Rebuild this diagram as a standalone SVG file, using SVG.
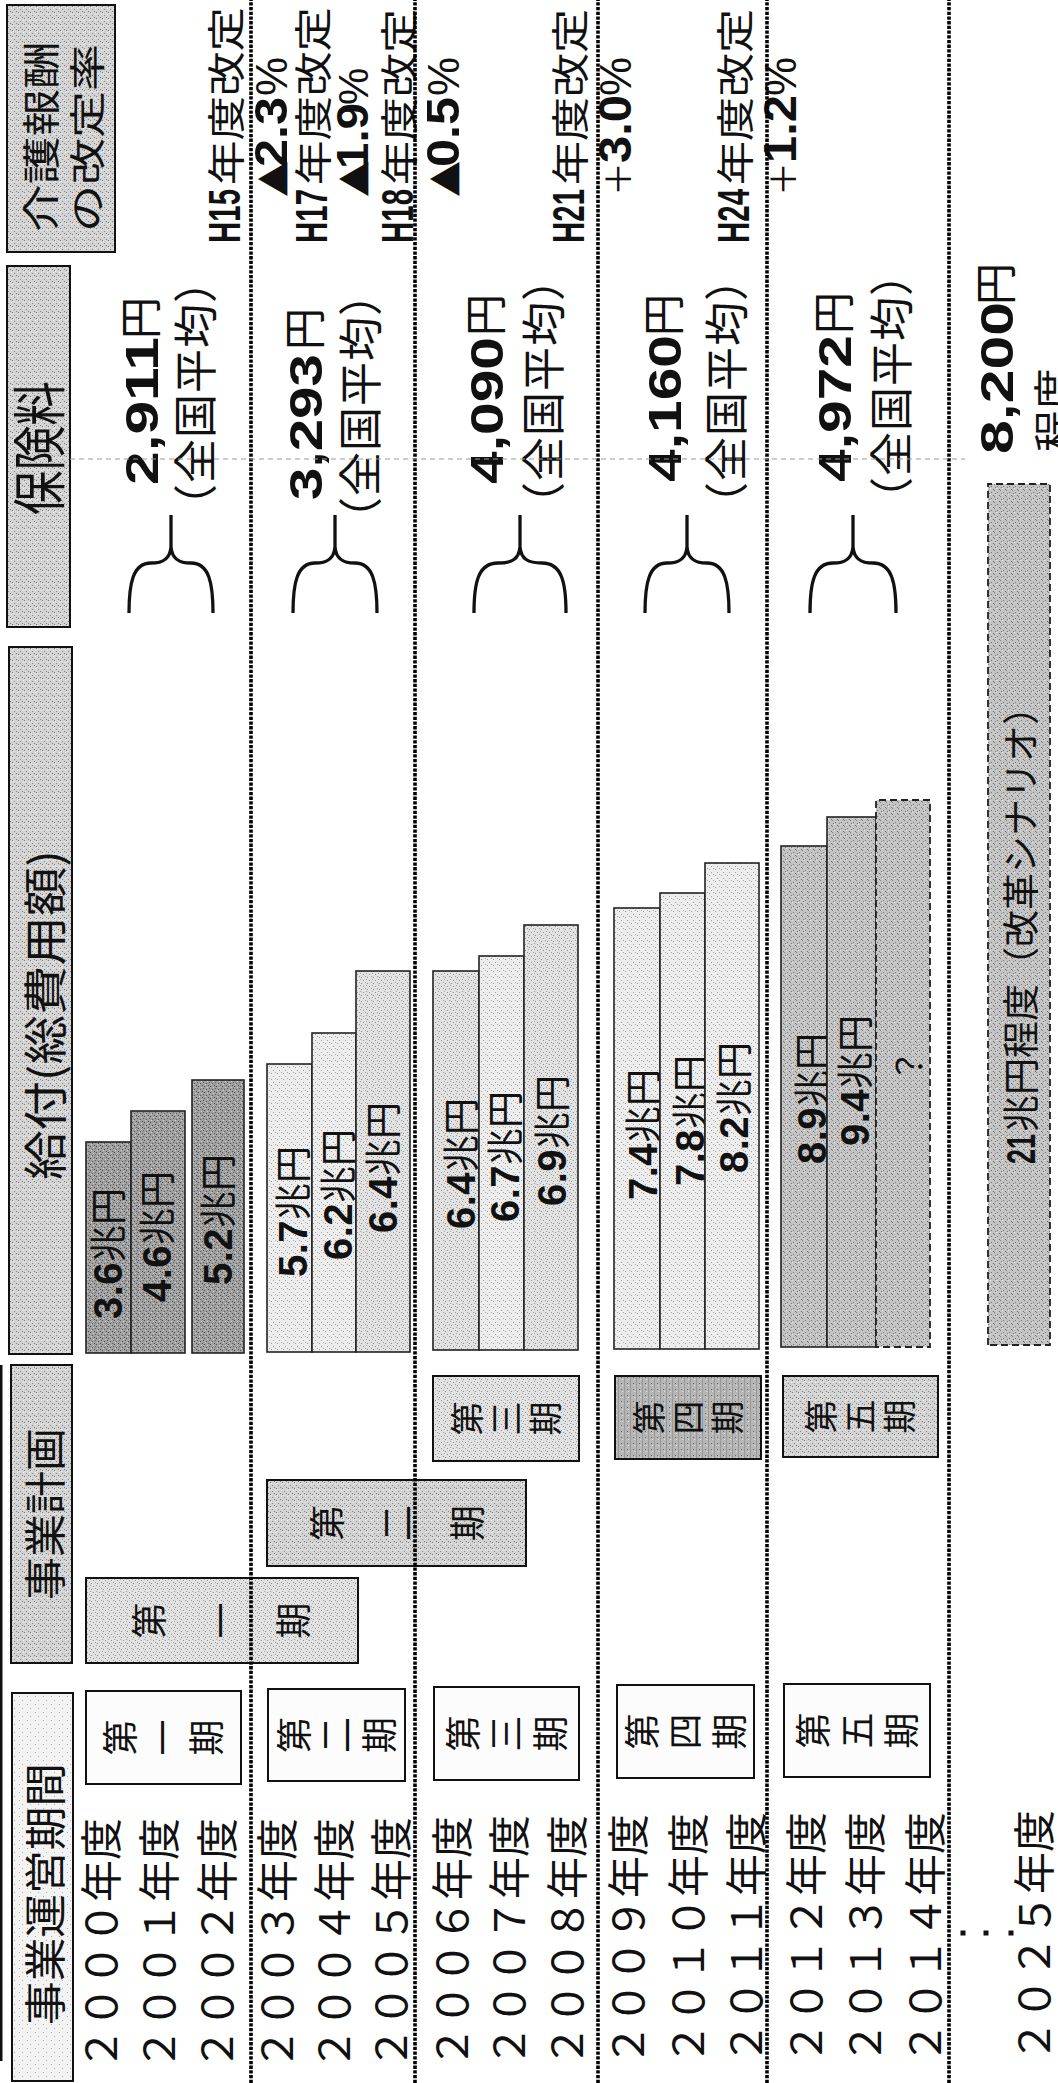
<svg xmlns="http://www.w3.org/2000/svg" width="1058" height="2083" viewBox="0 0 1058 2083">
<defs>
<pattern id="pK" width="6" height="6" patternUnits="userSpaceOnUse"><rect width="6" height="6" fill="#a0a0a0"/><rect x="0" y="0" width="1" height="1" fill="#505050"/><rect x="3" y="2" width="1" height="1" fill="#555"/><rect x="1" y="4" width="1" height="1" fill="#505050"/><rect x="4" y="5" width="1" height="1" fill="#606060"/><rect x="2" y="1" width="1" height="1" fill="#d4d4d4"/><rect x="5" y="3" width="1" height="1" fill="#d0d0d0"/></pattern>
<pattern id="pL" width="6" height="6" patternUnits="userSpaceOnUse"><rect width="6" height="6" fill="#ededed"/><rect x="1" y="1" width="1" height="1" fill="#999"/><rect x="4" y="3" width="1" height="1" fill="#a0a0a0"/><rect x="2" y="5" width="1" height="1" fill="#aaa"/></pattern>
<pattern id="pL2" width="6" height="6" patternUnits="userSpaceOnUse"><rect width="6" height="6" fill="#e2e2e2"/><rect x="1" y="1" width="1" height="1" fill="#8a8a8a"/><rect x="4" y="3" width="1" height="1" fill="#909090"/><rect x="2" y="5" width="1" height="1" fill="#999"/><rect x="5" y="0" width="1" height="1" fill="#a5a5a5"/></pattern>
<pattern id="pM" width="6" height="6" patternUnits="userSpaceOnUse"><rect width="6" height="6" fill="#c4c4c4"/><rect x="0" y="1" width="1" height="1" fill="#777"/><rect x="3" y="3" width="1" height="1" fill="#707070"/><rect x="5" y="5" width="1" height="1" fill="#7a7a7a"/><rect x="2" y="4" width="1" height="1" fill="#808080"/><rect x="4" y="0" width="1" height="1" fill="#e8e8e8"/></pattern>
<pattern id="pH" width="6" height="6" patternUnits="userSpaceOnUse"><rect width="6" height="6" fill="#d3d3d3"/><rect x="0" y="0" width="1" height="1" fill="#7a7a7a"/><rect x="3" y="2" width="1" height="1" fill="#888"/><rect x="1" y="4" width="1" height="1" fill="#808080"/><rect x="4" y="5" width="1" height="1" fill="#f2f2f2"/><rect x="5" y="1" width="1" height="1" fill="#f0f0f0"/></pattern>
<pattern id="pD" width="6" height="6" patternUnits="userSpaceOnUse"><rect width="6" height="6" fill="#b6b6b6"/><rect x="0" y="0" width="6" height="1" fill="#999"/><rect x="3" y="3" width="1" height="1" fill="#666"/><rect x="1" y="4" width="1" height="1" fill="#e0e0e0"/></pattern>
<pattern id="pW" width="8" height="8" patternUnits="userSpaceOnUse"><rect width="8" height="8" fill="#f3f3f3"/><rect x="2" y="3" width="1" height="1" fill="#aaa"/><rect x="6" y="6" width="1" height="1" fill="#b0b0b0"/></pattern>
</defs>
<style>
.j{font-family:"Noto Sans CJK JP","Noto Sans CJK SC",sans-serif;fill:#111}
.n{font-family:"Liberation Sans",Arial,sans-serif;font-weight:bold;fill:#111}
.r{font-family:"Liberation Sans",Arial,sans-serif;fill:#111}
.box{stroke:#111;stroke-width:2}
.bar{stroke:#222;stroke-width:1.6}
.dsh{stroke:#222;stroke-width:1.8;stroke-dasharray:7 4}
.sep{stroke:#000;stroke-width:3.6;stroke-dasharray:3.3 1.4;fill:none}
.brace{fill:none;stroke:#111;stroke-width:3.3}
.yr{font-size:42px}
</style>
<rect width="1058" height="2083" fill="#ffffff"/>
<g transform="translate(0 2083) rotate(-90)">

<!-- headers -->
<g id="hdr-unei"><rect class="box" x="2" y="12" width="388" height="61" fill="url(#pW)"/><text class="j" x="58" y="61" font-size="42" textLength="262" lengthAdjust="spacingAndGlyphs">事業運営期間</text></g>
<g id="hdr-keikaku"><rect class="box" x="420" y="11" width="298" height="61" fill="url(#pH)"/><text class="j" x="483" y="61" font-size="42" textLength="172" lengthAdjust="spacingAndGlyphs">事業計画</text></g>
<g id="hdr-kyufu"><rect class="box" x="729" y="9" width="707" height="63" fill="url(#pH)"/><text class="j" x="903" y="62" font-size="44" textLength="330" lengthAdjust="spacingAndGlyphs">給付(総費用額)</text></g>
<g id="hdr-hoken"><rect class="box" x="1456" y="7" width="361" height="63" fill="url(#pH)"/><text class="j" x="1568" y="60" font-size="54" textLength="134" lengthAdjust="spacingAndGlyphs">保険料</text></g>
<g id="hdr-kaigo"><rect class="box" x="1831" y="7" width="247" height="108" fill="url(#pH)"/><text class="j" x="1851" y="55" font-size="38" textLength="191" lengthAdjust="spacingAndGlyphs">介護報酬</text><text class="j" x="1851" y="101" font-size="36" textLength="188" lengthAdjust="spacingAndGlyphs">の改定率</text></g>

<!-- years -->
<g id="years">
<text class="j yr" x="13" y="117">２０００年度</text>
<text class="j yr" x="13" y="175">２００１年度</text>
<text class="j yr" x="13" y="233">２００２年度</text>
<text class="j yr" x="13" y="293">２００３年度</text>
<text class="j yr" x="13" y="350">２００４年度</text>
<text class="j yr" x="14" y="407">２００５年度</text>
<text class="j yr" x="15" y="468">２００６年度</text>
<text class="j yr" x="16" y="525">２００７年度</text>
<text class="j yr" x="16" y="583">２００８年度</text>
<text class="j yr" x="17" y="644">２００９年度</text>
<text class="j yr" x="18" y="704">２０１０年度</text>
<text class="j yr" x="19" y="762">２０１１年度</text>
<text class="j yr" x="19" y="822">２０１２年度</text>
<text class="j yr" x="19" y="881">２０１３年度</text>
<text class="j yr" x="19" y="941">２０１４年度</text>
<text class="j yr" x="21" y="1050">２０２５年度</text>
</g>

<!-- operating period boxes -->
<g id="op1"><rect class="box" x="299" y="86" width="93" height="155" fill="#fcfcfc"/><text class="j" font-size="36" text-anchor="middle" x="345.5" y="134">第</text><text class="j" font-size="36" text-anchor="middle" x="345.5" y="177">一</text><text class="j" font-size="36" text-anchor="middle" x="345.5" y="220">期</text></g>
<g id="op2"><rect class="box" x="302" y="268" width="92" height="137" fill="#fcfcfc"/><text class="j" font-size="36" text-anchor="middle" x="348" y="308">第</text><text class="j" font-size="36" text-anchor="middle" x="348" y="350">二</text><text class="j" font-size="36" text-anchor="middle" x="348" y="393">期</text></g>
<g id="op3"><rect class="box" x="303" y="434" width="93" height="145" fill="#fcfcfc"/><text class="j" font-size="36" text-anchor="middle" x="349.5" y="477">第</text><text class="j" font-size="36" text-anchor="middle" x="349.5" y="520">三</text><text class="j" font-size="36" text-anchor="middle" x="349.5" y="564">期</text></g>
<g id="op4"><rect class="box" x="305" y="617" width="93" height="137" fill="#fcfcfc"/><text class="j" font-size="36" text-anchor="middle" x="351.5" y="656">第</text><text class="j" font-size="36" text-anchor="middle" x="351.5" y="699">四</text><text class="j" font-size="36" text-anchor="middle" x="351.5" y="743">期</text></g>
<g id="op5"><rect class="box" x="306" y="784" width="93" height="146" fill="#fcfcfc"/><text class="j" font-size="36" text-anchor="middle" x="352.5" y="827">第</text><text class="j" font-size="36" text-anchor="middle" x="352.5" y="871">五</text><text class="j" font-size="36" text-anchor="middle" x="352.5" y="915">期</text></g>

<!-- plan boxes -->
<g id="pl1"><rect class="box" x="420" y="86" width="85" height="272" fill="url(#pL2)"/><text class="j" font-size="36" text-anchor="middle" x="462.5" y="163">第</text><text class="j" font-size="36" text-anchor="middle" x="462.5" y="235">一</text><text class="j" font-size="36" text-anchor="middle" x="462.5" y="307">期</text></g>
<g id="pl2"><rect class="box" x="517" y="267" width="86" height="259" fill="url(#pH)"/><text class="j" font-size="36" text-anchor="middle" x="560" y="341">第</text><text class="j" font-size="36" text-anchor="middle" x="560" y="411">二</text><text class="j" font-size="36" text-anchor="middle" x="560" y="481">期</text></g>
<g id="pl3"><rect class="box" x="622" y="433" width="85" height="146" fill="url(#pL2)"/><text class="j" font-size="34" text-anchor="middle" x="664.5" y="480">第</text><text class="j" font-size="34" text-anchor="middle" x="664.5" y="519">三</text><text class="j" font-size="34" text-anchor="middle" x="664.5" y="558">期</text></g>
<g id="pl4"><rect class="box" x="624" y="615" width="83" height="146" fill="url(#pD)"/><text class="j" font-size="34" text-anchor="middle" x="665.5" y="662">第</text><text class="j" font-size="34" text-anchor="middle" x="665.5" y="701">四</text><text class="j" font-size="34" text-anchor="middle" x="665.5" y="740">期</text></g>
<g id="pl5"><rect class="box" x="626" y="783" width="81" height="155" fill="url(#pH)"/><text class="j" font-size="34" text-anchor="middle" x="666.5" y="834">第</text><text class="j" font-size="34" text-anchor="middle" x="666.5" y="873">五</text><text class="j" font-size="34" text-anchor="middle" x="666.5" y="912">期</text></g>

<!-- bars -->
<g id="bar1"><rect class="bar" x="730" y="86" width="211" height="45" fill="url(#pK)"/><text x="764" y="122"><tspan class="n" font-size="40" letter-spacing="0.5">3.6</tspan><tspan class="j" font-size="37">兆円</tspan></text></g>
<g id="bar2"><rect class="bar" x="730" y="131" width="242" height="54" fill="url(#pK)"/><text x="781" y="171"><tspan class="n" font-size="40" letter-spacing="0.5">4.6</tspan><tspan class="j" font-size="37">兆円</tspan></text></g>
<g id="bar3"><rect class="bar" x="730" y="192" width="273" height="52" fill="url(#pK)"/><text x="798" y="232"><tspan class="n" font-size="40" letter-spacing="0.5">5.2</tspan><tspan class="j" font-size="37">兆円</tspan></text></g>
<g id="bar4"><rect class="bar" x="731" y="267" width="288" height="45" fill="url(#pL)"/><text x="806" y="307"><tspan class="n" font-size="40" letter-spacing="0.5">5.7</tspan><tspan class="j" font-size="37">兆円</tspan></text></g>
<g id="bar5"><rect class="bar" x="731" y="312" width="319" height="44" fill="url(#pL)"/><text x="823" y="352"><tspan class="n" font-size="40" letter-spacing="0.5">6.2</tspan><tspan class="j" font-size="37">兆円</tspan></text></g>
<g id="bar6"><rect class="bar" x="731" y="356" width="381" height="54" fill="url(#pL2)"/><text x="850" y="397"><tspan class="n" font-size="40" letter-spacing="0.5">6.4</tspan><tspan class="j" font-size="37">兆円</tspan></text></g>
<g id="bar7"><rect class="bar" x="733" y="433" width="379" height="46" fill="url(#pL2)"/><text x="854" y="475"><tspan class="n" font-size="40" letter-spacing="0.5">6.4</tspan><tspan class="j" font-size="37">兆円</tspan></text></g>
<g id="bar8"><rect class="bar" x="733" y="479" width="394" height="45" fill="url(#pL)"/><text x="861" y="519"><tspan class="n" font-size="40" letter-spacing="0.5">6.7</tspan><tspan class="j" font-size="37">兆円</tspan></text></g>
<g id="bar9"><rect class="bar" x="733" y="524" width="425" height="54" fill="url(#pL2)"/><text x="877" y="566"><tspan class="n" font-size="40" letter-spacing="0.5">6.9</tspan><tspan class="j" font-size="37">兆円</tspan></text></g>
<g id="bar10"><rect class="bar" x="734" y="614" width="441" height="46" fill="url(#pL)"/><text x="883" y="657"><tspan class="n" font-size="40" letter-spacing="0.5">7.4</tspan><tspan class="j" font-size="37">兆円</tspan></text></g>
<g id="bar11"><rect class="bar" x="734" y="660" width="456" height="45" fill="url(#pL)"/><text x="897" y="704"><tspan class="n" font-size="40" letter-spacing="0.5">7.8</tspan><tspan class="j" font-size="37">兆円</tspan></text></g>
<g id="bar12"><rect class="bar" x="734" y="705" width="486" height="54" fill="url(#pL)"/><text x="910" y="748"><tspan class="n" font-size="40" letter-spacing="0.5">8.2</tspan><tspan class="j" font-size="37">兆円</tspan></text></g>
<g id="bar13"><rect class="bar" x="736" y="781" width="501" height="46" fill="url(#pM)"/><text x="919" y="826"><tspan class="n" font-size="40" letter-spacing="0.5">8.9</tspan><tspan class="j" font-size="37">兆円</tspan></text></g>
<g id="bar14"><rect class="bar" x="736" y="827" width="530" height="49" fill="url(#pM)"/><text x="937" y="869"><tspan class="n" font-size="40" letter-spacing="0.5">9.4</tspan><tspan class="j" font-size="37">兆円</tspan></text></g>
<g id="bar15"><rect class="dsh" x="736" y="876" width="547" height="54" fill="url(#pM)"/><text class="j" x="1017" y="922" font-size="34" text-anchor="middle">？</text></g>
<g id="bar2025"><rect class="dsh" x="738" y="988" width="861" height="62" fill="url(#pM)"/><text class="n" x="919" y="1035" font-size="40" textLength="30" lengthAdjust="spacingAndGlyphs">21</text><text class="j" x="951" y="1035" font-size="37">兆円程度（改革シナリオ）</text></g>

<!-- premiums -->
<g id="prem1"><text class="n" x="1598" y="158" font-size="46" textLength="148" lengthAdjust="spacingAndGlyphs">2,911</text><text class="j" x="1744" y="156" font-size="42">円</text><text class="j" x="1555" y="212" font-size="44" letter-spacing="1">（全国平均）</text></g>
<g id="prem2"><text class="n" x="1583" y="322" font-size="46" textLength="146" lengthAdjust="spacingAndGlyphs">3,293</text><text class="j" x="1733" y="320" font-size="42">円</text><text class="j" x="1542" y="377" font-size="44" letter-spacing="1">（全国平均）</text></g>
<g id="prem3"><text class="n" x="1599" y="503" font-size="46" textLength="147" lengthAdjust="spacingAndGlyphs">4,090</text><text class="j" x="1747" y="501" font-size="42">円</text><text class="j" x="1557" y="560" font-size="44" letter-spacing="1">（全国平均）</text></g>
<g id="prem4"><text class="n" x="1601" y="681" font-size="46" textLength="147" lengthAdjust="spacingAndGlyphs">4,160</text><text class="j" x="1747" y="679" font-size="42">円</text><text class="j" x="1557" y="743" font-size="44" letter-spacing="1">（全国平均）</text></g>
<g id="prem5"><text class="n" x="1601" y="851" font-size="46" textLength="147" lengthAdjust="spacingAndGlyphs">4,972</text><text class="j" x="1749" y="849" font-size="42">円</text><text class="j" x="1562" y="908" font-size="44" letter-spacing="1">（全国平均）</text></g>
<g id="prem2025"><text class="n" x="1629" y="1013" font-size="46" textLength="152" lengthAdjust="spacingAndGlyphs">8,200</text><text class="j" x="1778" y="1011" font-size="42">円</text><text class="j" x="1631" y="1070" font-size="42">程度</text></g>

<!-- fee revisions -->
<g id="rev15"><text class="n" x="1840" y="240" font-size="44" textLength="54" lengthAdjust="spacingAndGlyphs">H15</text><text class="j" x="1898" y="240" font-size="38" textLength="178" lengthAdjust="spacingAndGlyphs">年度改定</text><text class="j" x="1886" y="288" font-size="36">▲</text><text class="n" x="1916" y="287" font-size="46" textLength="70" lengthAdjust="spacingAndGlyphs">2.3</text><text class="r" x="1987" y="287" font-size="44">%</text></g>
<g id="rev17"><text class="n" x="1840" y="327" font-size="44" textLength="54" lengthAdjust="spacingAndGlyphs">H17</text><text class="j" x="1898" y="327" font-size="38" textLength="178" lengthAdjust="spacingAndGlyphs">年度改定</text><text class="j" x="1886" y="369" font-size="36">▲</text><text class="n" x="1914" y="368" font-size="44" textLength="66" lengthAdjust="spacingAndGlyphs">1.9</text><text class="r" x="1978" y="368" font-size="42">%</text></g>
<g id="rev18"><text class="n" x="1840" y="413" font-size="44" textLength="54" lengthAdjust="spacingAndGlyphs">H18</text><text class="j" x="1898" y="413" font-size="38" textLength="176" lengthAdjust="spacingAndGlyphs">年度改定</text><text class="j" x="1886" y="460" font-size="36">▲</text><text class="n" x="1916" y="459" font-size="46" textLength="70" lengthAdjust="spacingAndGlyphs">0.5</text><text class="r" x="1987" y="459" font-size="44">%</text></g>
<g id="rev21"><text class="n" x="1840" y="584" font-size="44" textLength="54" lengthAdjust="spacingAndGlyphs">H21</text><text class="j" x="1898" y="584" font-size="38" textLength="176" lengthAdjust="spacingAndGlyphs">年度改定</text><text class="j" x="1887" y="631" font-size="34">＋</text><text class="n" x="1920" y="631" font-size="46" textLength="68" lengthAdjust="spacingAndGlyphs">3.0</text><text class="r" x="1987" y="631" font-size="44">%</text></g>
<g id="rev24"><text class="n" x="1840" y="749" font-size="44" textLength="54" lengthAdjust="spacingAndGlyphs">H24</text><text class="j" x="1898" y="749" font-size="38" textLength="176" lengthAdjust="spacingAndGlyphs">年度改定</text><text class="j" x="1887" y="796" font-size="34">＋</text><text class="n" x="1920" y="796" font-size="46" textLength="68" lengthAdjust="spacingAndGlyphs">1.2</text><text class="r" x="1987" y="796" font-size="44">%</text></g>

<!-- connectors: braces -->
<g id="connectors" class="brace">
<path transform="translate(0 171)" d="M1470,-42 C1500,-42 1520,-38 1520,-20 C1520,-8 1524,-1 1536,0 L1568,0 M1536,0 C1524,1 1520,8 1520,20 C1520,38 1500,42 1470,42"/>
<path transform="translate(0 335)" d="M1470,-42 C1500,-42 1520,-38 1520,-20 C1520,-8 1524,-1 1536,0 L1568,0 M1536,0 C1524,1 1520,8 1520,20 C1520,38 1500,42 1470,42"/>
<path transform="translate(0 520)" d="M1470,-46 C1500,-46 1520,-42 1520,-22 C1520,-8 1524,-1 1536,0 L1568,0 M1536,0 C1524,1 1520,8 1520,22 C1520,42 1500,46 1470,46"/>
<path transform="translate(0 687)" d="M1470,-42 C1500,-42 1520,-38 1520,-20 C1520,-8 1524,-1 1536,0 L1568,0 M1536,0 C1524,1 1520,8 1520,20 C1520,38 1500,42 1470,42"/>
<path transform="translate(0 853)" d="M1470,-43 C1500,-43 1520,-39 1520,-20 C1520,-8 1524,-1 1536,0 L1568,0 M1536,0 C1524,1 1520,8 1520,20 C1520,39 1500,43 1470,43"/>
</g>

<!-- separators and marks -->
<g id="grid">
<line class="sep" x1="0" y1="251" x2="2083" y2="251"/>
<line class="sep" x1="0" y1="415" x2="2083" y2="415"/>
<line class="sep" x1="0" y1="598" x2="2083" y2="598"/>
<line class="sep" x1="0" y1="767" x2="2083" y2="767"/>
<line class="sep" x1="0" y1="949" x2="2083" y2="949"/>
<line x1="1624" y1="70" x2="1624" y2="965" stroke="#9a9a9a" stroke-width="1" stroke-dasharray="5 4"/>
<rect x="22" y="0" width="696" height="2.5" fill="#111"/>
<rect x="147.5" y="960.5" width="5" height="5" fill="#111"/>
<rect x="147.5" y="983.5" width="5" height="5" fill="#111"/>
<rect x="147.5" y="1008.5" width="5" height="5" fill="#111"/>
</g>
</g>
</svg>
